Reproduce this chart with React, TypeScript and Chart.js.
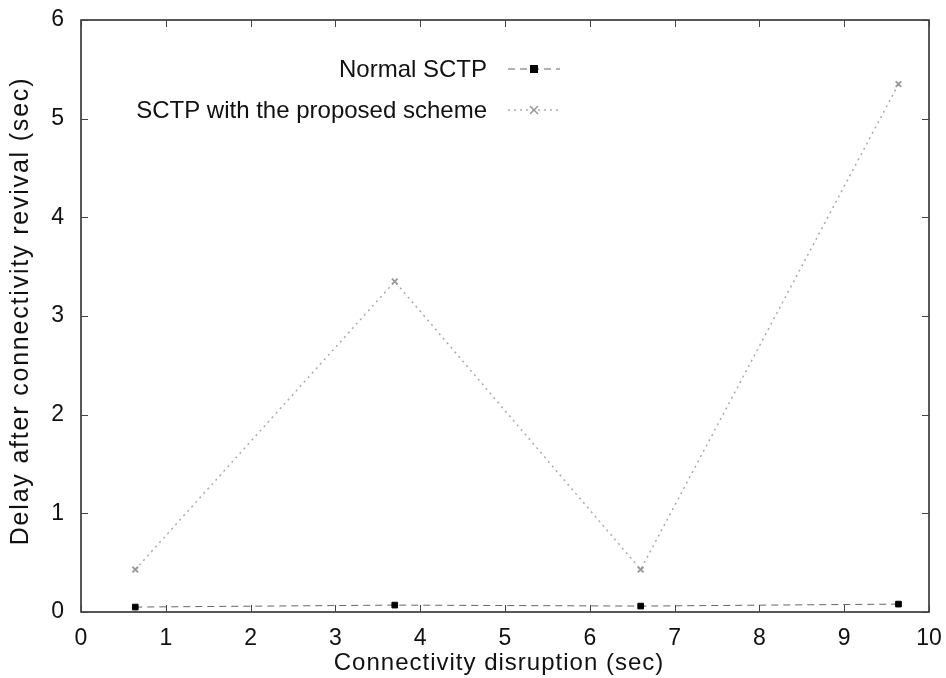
import React, { useEffect, useRef } from "react";
import { Chart, registerables } from "chart.js";

Chart.register(...registerables);

const xValues = [0.64, 3.7, 6.6, 9.64];
const normalSCTP = [0.05, 0.07, 0.06, 0.08];
const proposedSCTP = [0.43, 3.35, 0.43, 5.35];
const seriesLabels = ["Normal SCTP", "SCTP with the proposed scheme"];
const xTitle = "Connectivity disruption (sec)";
const yTitle = "Delay after connectivity revival (sec)";

const FONT = "'Liberation Sans', Arial, Helvetica, sans-serif";

const frameAndLegend = {
  id: "frameAndLegend",
  afterDatasetsDraw(chart: any) {
    const { ctx, chartArea, scales } = chart;
    const { left, right, top, bottom } = chartArea;
    ctx.save();
    ctx.strokeStyle = "#222";
    ctx.lineWidth = 1.5;
    ctx.strokeRect(left, top, right - left, bottom - top);
    ctx.lineWidth = 1;
    ctx.strokeStyle = "#444";
    const tl = 7;
    scales.x.ticks.forEach((t: any) => {
      const px = Math.round(scales.x.getPixelForValue(t.value)) + 0.5;
      ctx.beginPath();
      ctx.moveTo(px, bottom);
      ctx.lineTo(px, bottom - tl);
      ctx.moveTo(px, top);
      ctx.lineTo(px, top + tl);
      ctx.stroke();
    });
    scales.y.ticks.forEach((t: any) => {
      const py = Math.round(scales.y.getPixelForValue(t.value)) + 0.5;
      ctx.beginPath();
      ctx.moveTo(left, py);
      ctx.lineTo(left + tl, py);
      ctx.moveTo(right, py);
      ctx.lineTo(right - tl, py);
      ctx.stroke();
    });
    // legend
    ctx.font = `24px ${FONT}`;
    ctx.textAlign = "right";
    ctx.textBaseline = "middle";
    const textRight = left + 406;
    const rows = [top + 49, top + 90];
    chart.data.datasets.forEach((ds: any, i: number) => {
      const y = rows[i];
      ctx.fillStyle = "#111";
      ctx.fillText(ds.label, textRight, y + 1);
      const x0 = textRight + 21;
      const x1 = textRight + 73;
      ctx.strokeStyle = ds.borderColor;
      ctx.lineWidth = ds.borderWidth;
      ctx.setLineDash(ds.borderDash || []);
      ctx.beginPath();
      ctx.moveTo(x0, y);
      ctx.lineTo(x1, y);
      ctx.stroke();
      ctx.setLineDash([]);
      const cx = (x0 + x1) / 2;
      const r = ds.pointRadius;
      if (ds.pointStyle === "rect") {
        ctx.fillStyle = ds.pointBackgroundColor;
        ctx.fillRect(cx - r, y - r, 2 * r, 2 * r);
      } else {
        ctx.strokeStyle = ds.pointBorderColor;
        ctx.lineWidth = 1.5;
        ctx.beginPath();
        ctx.moveTo(cx - r, y - r);
        ctx.lineTo(cx + r, y + r);
        ctx.moveTo(cx + r, y - r);
        ctx.lineTo(cx - r, y + r);
        ctx.stroke();
      }
    });
    // axis titles
    ctx.fillStyle = "#111";
    ctx.textAlign = "center";
    ctx.textBaseline = "middle";
    ctx.font = `24px ${FONT}`;
    (ctx as any).letterSpacing = "1px";
    ctx.fillText(xTitle, (left + right) / 2 - 6, 663);
    ctx.translate(21, (top + bottom) / 2 - 5);
    ctx.rotate(-Math.PI / 2);
    ctx.font = `25px ${FONT}`;
    (ctx as any).letterSpacing = "1.8px";
    ctx.fillText(yTitle, 0, 0);
    ctx.restore();
  },
};

const zeroPad = (s: any) => {
  s.paddingTop = 0;
  s.paddingBottom = 0;
  s.paddingLeft = 0;
  s.paddingRight = 0;
};

export default function App() {
  const ref = useRef<HTMLCanvasElement>(null);
  useEffect(() => {
    document.body.style.margin = "0";
    const chart = new Chart(ref.current!, {
      type: "line",
      data: {
        datasets: [
          {
            label: seriesLabels[0],
            data: xValues.map((x, i) => ({ x, y: normalSCTP[i] })),
            borderColor: "#666",
            borderWidth: 1,
            borderDash: [7, 5],
            pointStyle: "rect",
            pointRadius: 4,
            pointBackgroundColor: "#000",
            pointBorderColor: "#000",
            tension: 0,
          },
          {
            label: seriesLabels[1],
            data: xValues.map((x, i) => ({ x, y: proposedSCTP[i] })),
            borderColor: "#aaa",
            borderWidth: 1.5,
            borderDash: [2, 4],
            pointStyle: "crossRot",
            pointRadius: 4,
            pointBorderWidth: 1.8,
            pointBackgroundColor: "#999",
            pointBorderColor: "#999",
            tension: 0,
          },
        ],
      },
      options: {
        responsive: false,
        animation: false,
        layout: { padding: { top: 20, right: 17, left: 0, bottom: 0 } },
        plugins: { legend: { display: false }, tooltip: { enabled: false } },
        scales: {
          x: {
            type: "linear",
            min: 0,
            max: 10,
            ticks: { stepSize: 1, color: "#111", font: { family: FONT, size: 23 }, padding: 5 },
            grid: { display: false },
            border: { display: false },
            title: { display: false, text: xTitle },
            afterFit: (s: any) => { s.height = 66; zeroPad(s); },
          },
          y: {
            type: "linear",
            min: 0,
            max: 6,
            ticks: { stepSize: 1, color: "#111", font: { family: FONT, size: 23 }, padding: 9 },
            grid: { display: false },
            border: { display: false },
            title: { display: false, text: yTitle },
            afterFit: (s: any) => { s.width = 81; zeroPad(s); },
          },
        },
      },
      plugins: [frameAndLegend],
    } as any);
    return () => chart.destroy();
  }, []);
  return (
    <div style={{ position: "fixed", left: 0, top: 0, width: 946, height: 678, background: "#fff" }}>
      <canvas ref={ref} width={946} height={678} style={{ width: 946, height: 678 }} />
    </div>
  );
}
